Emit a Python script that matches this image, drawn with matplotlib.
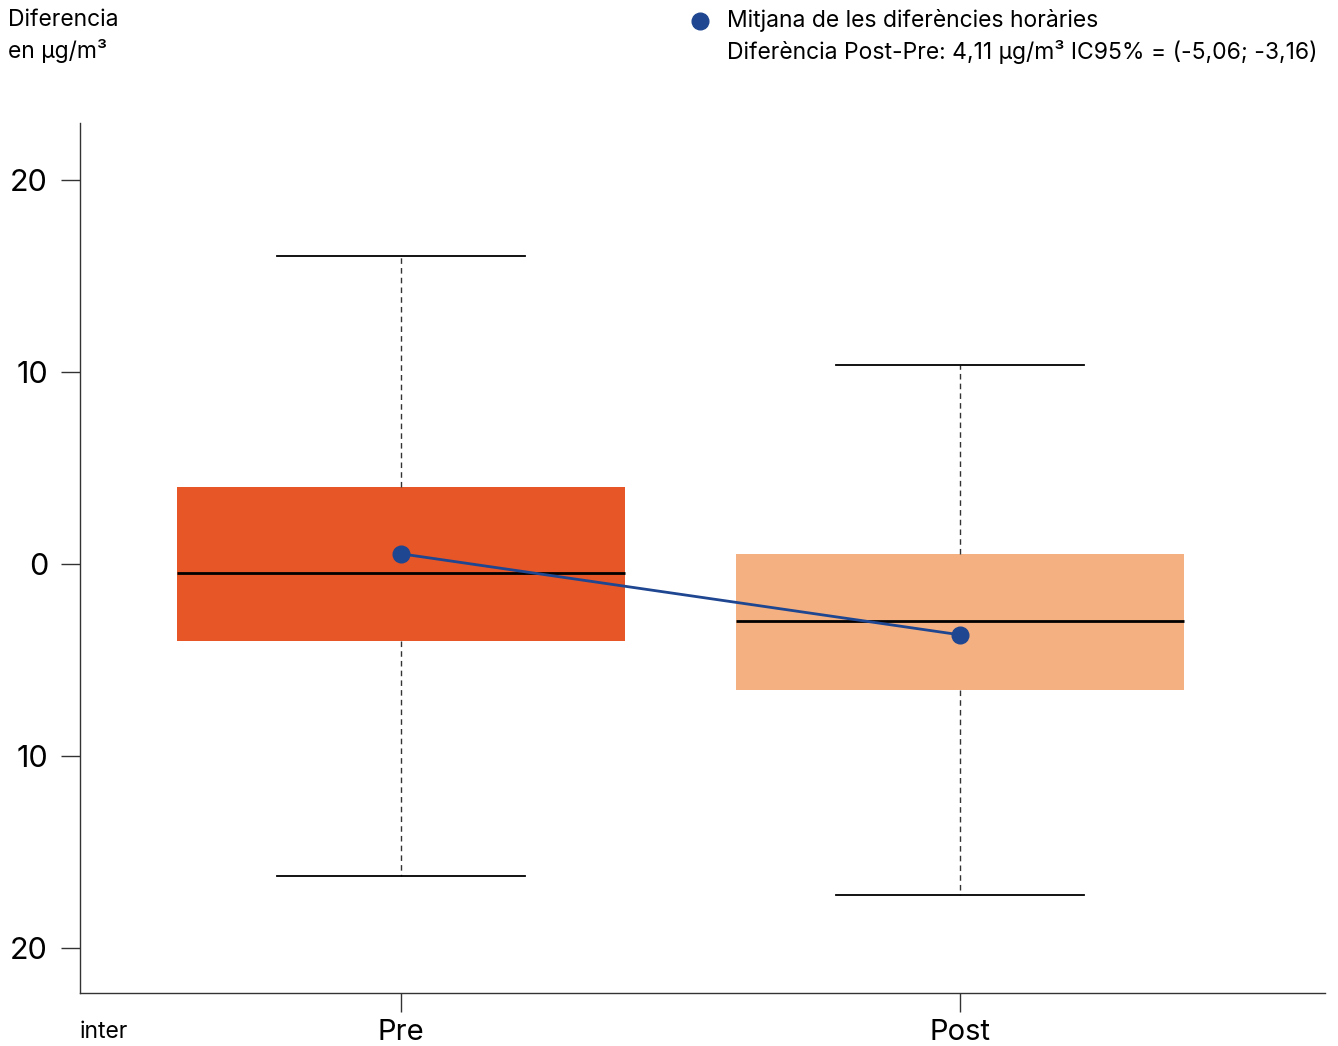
import matplotlib
matplotlib.use("Agg")
import matplotlib.pyplot as plt

plt.rcParams['font.family'] = ['Inter', 'DejaVu Sans']

categories = ["Pre", "Post"]
q1 = [-4.01, -6.56]
q3 = [4.01, 0.52]
medians = [-0.47, -2.97]
whislo = [-16.25, -17.24]
whishi = [16.04, 10.36]
means = [0.52, -3.70]
box_colors = ["#E75626", "#F4B080"]
ytick_vals = [20, 10, 0, -10, -20]
ytick_labels = ["20", "10", "0", "10", "20"]

fig = plt.figure(figsize=(13.38, 10.46), dpi=100)
ax = fig.add_axes([80/1338, 1-993/1046, (1325-80)/1338, (993-123)/1046])

positions = list(range(len(categories)))
stats = []
for i, c in enumerate(categories):
    stats.append(dict(label=c, q1=q1[i], q3=q3[i], med=medians[i],
                      whislo=whislo[i], whishi=whishi[i], fliers=[]))

bp = ax.bxp(stats, positions=positions, widths=0.8, patch_artist=True,
            showfliers=False, manage_ticks=False,
            boxprops=dict(linewidth=0),
            medianprops=dict(color="black", linewidth=2),
            whiskerprops=dict(color="#333333", linewidth=1, linestyle=(0, (4, 3))),
            capprops=dict(color="black", linewidth=1.3),
            capwidths=0.445)
for patch, col in zip(bp['boxes'], box_colors):
    patch.set_facecolor(col)
    patch.set_edgecolor(col)

ax.plot(positions, means, color="#1F4690", linewidth=2, marker="o",
        markersize=12, zorder=5)

ax.set_xlim(-0.574, 1.653)
ax.set_ylim(-22.35, 22.95)
ax.set_yticks(ytick_vals)
ax.set_yticklabels(ytick_labels)
ax.set_xticks(positions)
ax.set_xticklabels(categories)
ax.tick_params(axis='y', length=14, width=1, color="#333333", labelsize=22, pad=9)
ax.tick_params(axis='x', length=14, width=1, color="#333333", labelsize=21, pad=5)
for s in ["top", "right"]:
    ax.spines[s].set_visible(False)
for s in ["left", "bottom"]:
    ax.spines[s].set_color("#333333")
    ax.spines[s].set_linewidth(1)

fig.text(8/1338, 1-20/1046, "Diferencia", fontsize=16.5, va="center", ha="left")
fig.text(8/1338, 1-51/1046, "en µg/m³", fontsize=16.5, va="center", ha="left")
fig.text(80/1338, 1-1032/1046, "inter", fontsize=16.5, va="center", ha="left")

fig.lines.append(plt.Line2D([700/1338], [1-21/1046], marker="o", markersize=12,
                            color="#1F4690", transform=fig.transFigure))
fig.text(727/1338, 1-20/1046, "Mitjana de les diferències horàries", fontsize=16.5,
         va="center", ha="left")
fig.text(727/1338, 1-52/1046, "Diferència Post-Pre: 4,11 µg/m³ IC95% = (-5,06; -3,16)",
         fontsize=16.5, va="center", ha="left")

fig.savefig("out.png", dpi=100)
